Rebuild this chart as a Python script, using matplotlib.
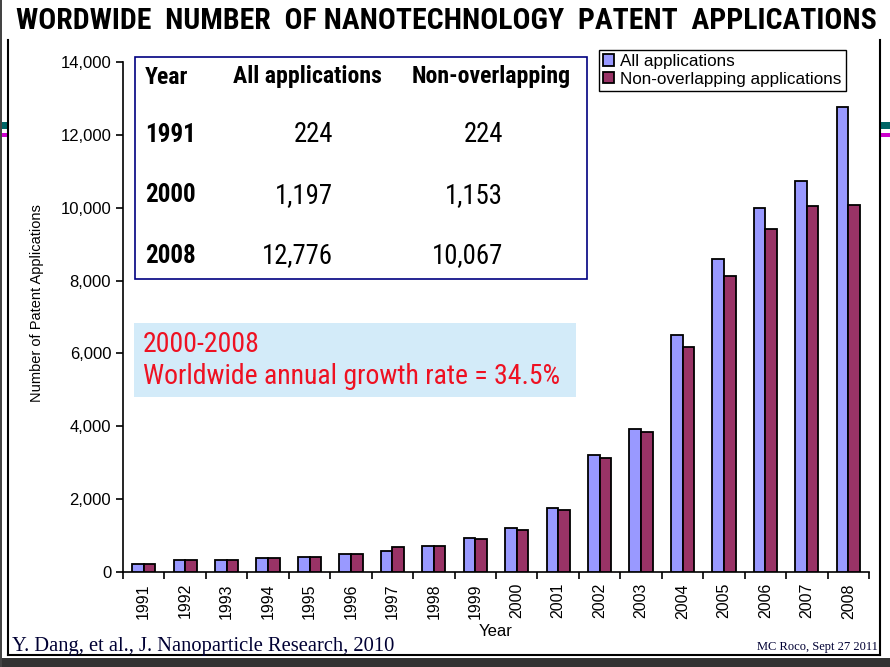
import matplotlib
matplotlib.use("Agg")
import matplotlib.pyplot as plt
import numpy as np
from matplotlib.ticker import FuncFormatter
from matplotlib.patches import Rectangle
from matplotlib.lines import Line2D

# data
years = ['1991', '1992', '1993', '1994', '1995', '1996', '1997', '1998', '1999',
         '2000', '2001', '2002', '2003', '2004', '2005', '2006', '2007', '2008']
all_apps = [224, 325, 325, 380, 400, 490, 570, 705, 925,
            1197, 1765, 3215, 3930, 6500, 8585, 9985, 10725, 12776]
non_overlap = [224, 325, 325, 380, 400, 490, 680, 705, 900,
               1153, 1700, 3120, 3830, 6180, 8120, 9405, 10040, 10067]

table_years = ['1991', '2000', '2008']
table_all = ['224', '1,197', '12,776']
table_non = ['224', '1,153', '10,067']

W, H = 890, 667
NARROW = ['Roboto Condensed', 'Archivo Narrow', 'PT Sans Narrow', 'DejaVu Sans']
SANS = ['Liberation Sans', 'DejaVu Sans']
SERIF = ['Liberation Serif', 'DejaVu Serif']


def fx(px):
    return px / W


def fy(py):
    return 1 - py / H


fig = plt.figure(figsize=(8.9, 6.67), dpi=100)
fig.patch.set_facecolor('white')
renderer = fig.canvas.get_renderer()


def fit(texts, width_px):
    # scale font so the widest text of the group spans width_px
    w = max(t.get_window_extent(renderer).width for t in texts)
    for t in texts:
        t.set_fontsize(t.get_fontsize() * width_px / w)


ax = fig.add_axes([fx(123), fy(572), fx(869) - fx(123), fy(62) - fy(572)])
x = np.arange(len(years))
ax.bar(x - 0.14, all_apps, width=0.28, color='#9999ff', edgecolor='black',
       linewidth=1.3, label='All applications', zorder=3)
ax.bar(x + 0.14, non_overlap, width=0.28, color='#993366', edgecolor='black',
       linewidth=1.3, label='Non-overlapping applications', zorder=3)

ax.set_xlim(-0.5, len(years) - 0.5)
ax.set_ylim(0, 14000)
ax.set_yticks(range(0, 14001, 2000))
ax.yaxis.set_major_formatter(FuncFormatter(lambda v, p: '{:,.0f}'.format(v)))
ax.set_xticks(x)
ax.set_xticklabels(years, rotation=90, family=SANS, fontsize=11.5)
ax.set_xticks(np.arange(-0.5, len(years)), minor=True)
ax.tick_params(axis='x', which='major', length=0, pad=8)
ax.tick_params(axis='x', which='minor', length=5, width=1.2, direction='out')
ax.tick_params(axis='y', length=5, width=1.2, direction='out', labelsize=12)
for lab in ax.get_yticklabels():
    lab.set_family(SANS)
for s in ['top', 'right']:
    ax.spines[s].set_visible(False)
for s in ['left', 'bottom']:
    ax.spines[s].set_linewidth(1.2)

leg = ax.legend(loc='upper left', bbox_to_anchor=((599 - 123) / (869 - 123), 1.024),
                frameon=True, fancybox=False, edgecolor='black', framealpha=1,
                prop={'family': SANS, 'size': 12.3}, handlelength=0.65, handleheight=0.65,
                handletextpad=0.35, borderpad=0.25, labelspacing=0.15, borderaxespad=0)
leg.get_frame().set_linewidth(1.0)

# axis labels
fig.text(fx(37), fy(303), 'Number of Patent Applications', rotation=90,
         ha='center', va='center', family=SANS, fontsize=10.5)
fig.text(fx(496), fy(632), 'Year', ha='center', va='center', family=SANS, fontsize=12)

# title
title = fig.text(fx(446.5), fy(21), 'WORDWIDE  NUMBER  OF NANOTECHNOLOGY  PATENT  APPLICATIONS',
                 ha='center', va='center', family=NARROW, fontweight='bold', fontsize=22)
fit([title], 857)

# summary table box
fig.add_artist(Rectangle((fx(135), fy(279)), fx(587) - fx(135), fy(57) - fy(279),
                         transform=fig.transFigure, facecolor='white',
                         edgecolor='#000080', linewidth=1.2, zorder=5))
hdr = dict(va='center', family=NARROW, fontweight='bold', fontsize=17.5, zorder=6)
h1 = fig.text(fx(145), fy(77), 'Year', ha='left', **hdr)
h2 = fig.text(fx(307), fy(77), 'All applications', ha='center', **hdr)
h3 = fig.text(fx(491), fy(77), 'Non-overlapping', ha='center', **hdr)
fit([h2], 148)
for h in (h1, h3):
    h.set_fontsize(h2.get_fontsize())

yr_txt, all_txt, non_txt = [], [], []
for i, (yr, a, n) in enumerate(zip(table_years, table_all, table_non)):
    py = 135 + i * 60.5
    yr_txt.append(fig.text(fx(145), fy(py), yr, ha='left', va='center', family=NARROW,
                           fontweight='bold', fontsize=20, zorder=6))
    all_txt.append(fig.text(fx(333), fy(py), a, ha='right', va='center', family=NARROW,
                            fontsize=20, zorder=6))
    non_txt.append(fig.text(fx(503), fy(py), n, ha='right', va='center', family=NARROW,
                            fontsize=20, zorder=6))
fit(yr_txt, 51)
fit(all_txt + non_txt, 71)

# growth rate box
fig.add_artist(Rectangle((fx(134), fy(397)), fx(576) - fx(134), fy(323) - fy(397),
                         transform=fig.transFigure, facecolor='#d3ebf9',
                         edgecolor='none', zorder=5))
r1 = fig.text(fx(143), fy(345), '2000-2008', ha='left', va='center', family=NARROW,
              fontsize=21, color='#ee1122', zorder=6)
r2 = fig.text(fx(143), fy(377), 'Worldwide annual growth rate = 34.5%', ha='left',
              va='center', family=NARROW, fontsize=21, color='#ee1122', zorder=6)
fit([r2], 418)
r1.set_fontsize(r2.get_fontsize())

# footers
foot = fig.text(fx(12), fy(647), 'Y. Dang, et al., J. Nanoparticle Research, 2010',
                ha='left', va='center', family=SERIF, fontsize=13.5, color='#000033')
fit([foot], 384)
fig.text(fx(878), fy(647), 'MC Roco, Sept 27 2011', ha='right', va='center',
         family=SERIF, fontsize=9, color='#000033')

# slide frame
for (x0, y0, x1, y1) in [(8, 40, 8, 655), (880, 40, 880, 655), (8, 655, 880, 655)]:
    fig.add_artist(Line2D([fx(x0), fx(x1)], [fy(y0), fy(y1)], color='black',
                          linewidth=1.5, transform=fig.transFigure))
fig.add_artist(Rectangle((0, 0), 1, fy(658), transform=fig.transFigure,
                         facecolor='#333333', edgecolor='none'))
fig.add_artist(Rectangle((0, 0), fx(1.5), 1, transform=fig.transFigure,
                         facecolor='#444444', edgecolor='none'))
for (x0, x1) in [(1.5, 8), (881, 890)]:
    fig.add_artist(Rectangle((fx(x0), fy(129)), fx(x1) - fx(x0), fy(122) - fy(129),
                             transform=fig.transFigure, facecolor='#006666',
                             edgecolor='none'))
    fig.add_artist(Rectangle((fx(x0), fy(137)), fx(x1) - fx(x0), fy(133) - fy(137),
                             transform=fig.transFigure, facecolor='#cc00cc',
                             edgecolor='none'))

fig.savefig('out.png', dpi=100)
